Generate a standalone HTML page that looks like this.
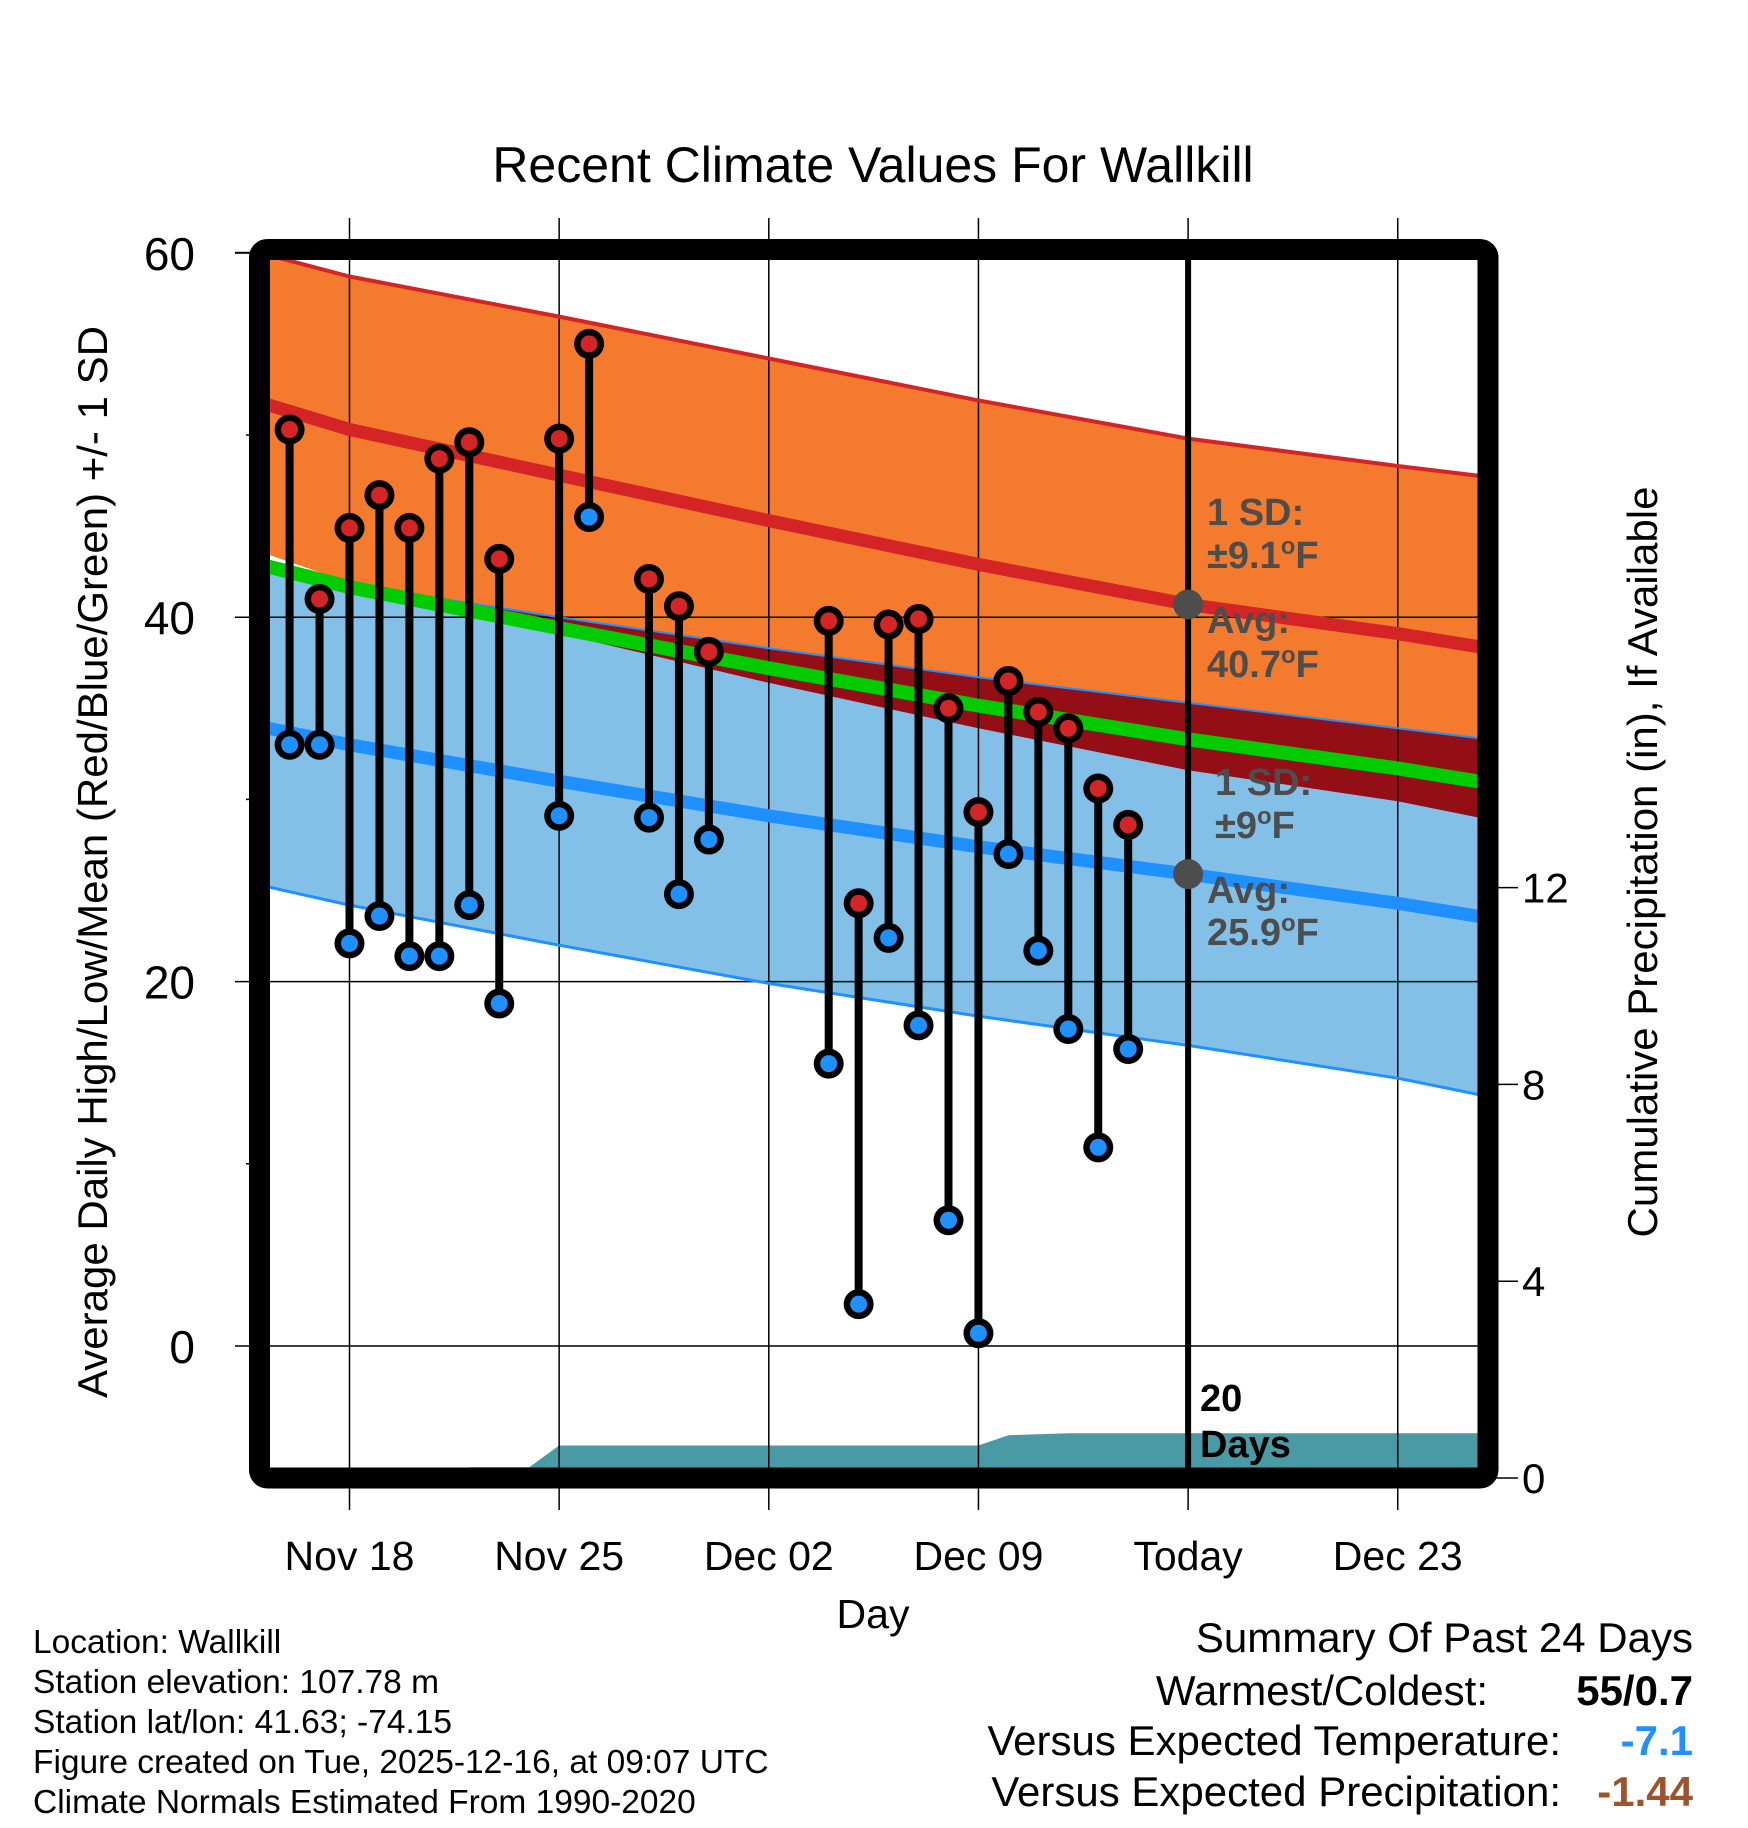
<!DOCTYPE html>
<html><head><meta charset="utf-8"><style>
html,body{margin:0;padding:0;background:#fff;}
svg{display:block;font-family:"Liberation Sans",sans-serif;}
</style></head><body>
<svg id="chart" width="1748" height="1828" viewBox="0 0 1748 1828">
<defs><clipPath id="plotclip"><rect x="260" y="250" width="1228" height="1228"/></clipPath></defs>
<g id="g-bands" clip-path="url(#plotclip)"></g>
<g id="g-grid"></g>
<g id="g-lines" clip-path="url(#plotclip)"></g>
<g id="g-data"></g>
<g id="g-frame"></g>
<g id="g-text"></g>
</svg>
<script>
// ---- data (days offset from Nov 18) ----
const normDays = [-3, 0, 7, 14, 21, 28, 35, 38];
const highMean = [51.8, 50.3, 47.8, 45.3, 42.9, 40.7, 39.1, 38.3];
const highSD   = [8.2, 8.4, 8.7, 8.9, 9.0, 9.1, 9.2, 9.4];
const lowMean  = [34.0, 33.0, 31.0, 29.1, 27.4, 25.9, 24.3, 23.5];
const lowSD    = [8.7, 8.8, 9.0, 9.2, 9.3, 9.4, 9.6, 9.8];
const obsDays  = [-2,-1,0,1,2,3,4,5,7,8,10,11,12,16,17,18,19,20,21,22,23,24,25,26];
const obsHigh  = [50.3,41.0,44.9,46.7,44.9,48.7,49.6,43.2,49.8,55.0,42.1,40.6,38.1,39.8,24.3,39.6,39.9,35.0,29.3,36.5,34.8,33.9,30.6,28.6];
const obsLow   = [33.0,33.0,22.1,23.6,21.4,21.4,24.2,18.8,29.1,45.5,29.0,24.8,27.8,15.5,2.3,22.4,17.6,6.9,0.7,27.0,21.7,17.4,10.9,16.3];
const precipDays = [-3,3.9,4.0,6.0,7.0,21.0,22.0,24.0,38.0];
const precipVals = [0,0,0.22,0.22,0.66,0.66,0.87,0.91,0.91];
const xTickDays = [0,7,14,21,28,35];
const xTickLabels = ["Nov 18","Nov 25","Dec 02","Dec 09","Today","Dec 23"];
const yTicks = [0,20,40,60];
const yMinor = [10,30,50];
const pTicks = [0,4,8,12];
const todayDay = 28;

const NS="http://www.w3.org/2000/svg";
const X = d => 349.5 + d*29.95;
const Y = t => 1346 - t*18.22;
const P = p => 1478 - p*49.2;
function el(tag, attrs, parent){const e=document.createElementNS(NS,tag);for(const k in attrs)e.setAttribute(k,attrs[k]);parent.appendChild(e);return e;}
const gb=document.getElementById('g-bands'), gg=document.getElementById('g-grid'), gl=document.getElementById('g-lines'),
      gd=document.getElementById('g-data'), gf=document.getElementById('g-frame'), gt=document.getElementById('g-text');

function pts(vals){return normDays.map((d,i)=>X(d)+','+Y(vals[i]).toFixed(1));}
function band(upper,lower){return pts(upper).concat(pts(lower).reverse()).join(' ');}
const hiU=highMean.map((m,i)=>m+highSD[i]), hiL=highMean.map((m,i)=>m-highSD[i]);
const loU=lowMean.map((m,i)=>m+lowSD[i]), loL=lowMean.map((m,i)=>m-lowSD[i]);
const midM=highMean.map((m,i)=>(m+lowMean[i])/2);

let e;
e=el('polygon',{points:band(hiU,hiL),fill:'#f47a2e'},gb);


e=el('polygon',{points:band(loU,loL),fill:'#83c0e8'},gb);


const cp=el('clipPath',{id:'hiclip'},document.querySelector('defs'));
el('polygon',{points:band(hiU,hiL)},cp);
e=el('polygon',{points:band(loU,loL),fill:'#930e15','clip-path':'url(#hiclip)'},gb);


// precip
const pp=precipDays.map((d,i)=>X(d)+','+P(precipVals[i]).toFixed(1));
pp.push(X(38)+','+P(0)); pp.push(X(-3)+','+P(0));
e=el('polygon',{points:pp.join(' '),fill:'#4a9aa5'},gb);



// grid
yTicks.forEach(t=>{
  e=el('line',{x1:235,x2:1488,y1:Y(t),y2:Y(t),stroke:'#000','stroke-width':1.5},gg);
  
  
});
yMinor.forEach(t=>{
  e=el('line',{x1:246,x2:260,y1:Y(t),y2:Y(t),stroke:'#000','stroke-width':1.5},gg);
  
  
});
xTickDays.forEach(d=>{
  e=el('line',{x1:X(d),x2:X(d),y1:218,y2:1510,stroke:'#000','stroke-width':1.5},gg);
  
  
});
pTicks.forEach(p=>{
  e=el('line',{x1:1488,x2:1518,y1:P(p),y2:P(p),stroke:'#000','stroke-width':1.5},gg);
  
  
});

function line(vals,color,w,name){
  e=el('polyline',{points:pts(vals).join(' '),fill:'none',stroke:color,'stroke-width':w,'stroke-linejoin':'round'},gl);
  
  
}
line(hiU,'#d42426',4,'high-upper-sd-line');
line(loL,'#1e90ff',3,'low-lower-sd-line');
line(loU,'#1e90ff',2,'low-upper-sd-line');
line(highMean,'#d42426',13,'avg-high-line');
line(lowMean,'#1e90ff',13,'avg-low-line');
line(midM,'#00cc00',14,'avg-mean-line');

// today line
e=el('line',{x1:X(todayDay),x2:X(todayDay),y1:250,y2:1478,stroke:'#000','stroke-width':6},gd);



// observations
obsDays.forEach((d,i)=>{
  e=el('line',{x1:X(d),x2:X(d),y1:Y(obsHigh[i]),y2:Y(obsLow[i]),stroke:'#000','stroke-width':8},gd);
  
  
});
obsDays.forEach((d,i)=>{
  [[obsHigh[i],'#d42426','high-marker'],[obsLow[i],'#1e90ff','low-marker']].forEach(([v,c,n])=>{
    e=el('circle',{cx:X(d),cy:Y(v),r:15,fill:'#000'},gd);
    
    
    e=el('circle',{cx:X(d),cy:Y(v),r:8.5,fill:c},gd);
    
    
  });
});
// today normal dots
[highMean[5],lowMean[5]].forEach(v=>{
  e=el('circle',{cx:X(todayDay),cy:Y(v),r:15,fill:'#4d4d4d'},gd);
  
  
});

// frame
e=el('rect',{x:259.5,y:249.5,width:1228.5,height:1228.5,rx:8,fill:'none',stroke:'#000','stroke-width':21},gf);


e=el('line',{x1:235,x2:250,y1:Y(60),y2:Y(60),stroke:'#000','stroke-width':2},gf);



function txt(s,x,y,attrs,name){
  e=el('text',Object.assign({x:x,y:y},attrs),gt);
  e.textContent=s;
  
  
  return e;
}
txt('Recent Climate Values For Wallkill',873,182,{'font-size':50,'text-anchor':'middle'},'chart-title');
yTicks.forEach(t=>txt(String(t),195,Y(t)+17,{'font-size':46,'text-anchor':'end'},'y-tick-label'));
pTicks.forEach(p=>txt(String(p),1522,P(p)+15,{'font-size':42},'precip-tick-label'));
xTickDays.forEach((d,i)=>txt(xTickLabels[i],X(d),1570,{'font-size':41,'text-anchor':'middle'},'x-tick-label'));
txt('Day',873,1628,{'font-size':41,'text-anchor':'middle'},'x-axis-title');
txt('Average Daily High/Low/Mean (Red/Blue/Green) +/- 1 SD',0,0,{'font-size':42,'text-anchor':'middle',transform:'translate(107,862) rotate(-90)'},'y-axis-title');
txt('Cumulative Precipitation (in), If Available',0,0,{'font-size':42,'text-anchor':'middle',transform:'translate(1657,862) rotate(-90)'},'precip-axis-title');

const lab={'font-size':38,'font-weight':'bold',fill:'#4d4d4d'};
txt('1 SD:',1207,525,lab,'high-sd-label');
e=txt('',1207,568,lab,'high-sd-value');
e.innerHTML='±9.1<tspan dy="-14" font-size="24">o</tspan><tspan dy="14">F</tspan>';
txt('Avg:',1207,633,lab,'high-avg-label');
e=txt('',1207,677,lab,'high-avg-value');
e.innerHTML='40.7<tspan dy="-14" font-size="24">o</tspan><tspan dy="14">F</tspan>';
txt('1 SD:',1215,795,lab,'low-sd-label');
e=txt('',1215,838,lab,'low-sd-value');
e.innerHTML='±9<tspan dy="-14" font-size="24">o</tspan><tspan dy="14">F</tspan>';
txt('Avg:',1207,903,lab,'low-avg-label');
e=txt('',1207,945,lab,'low-avg-value');
e.innerHTML='25.9<tspan dy="-14" font-size="24">o</tspan><tspan dy="14">F</tspan>';
txt('20',1200,1411,{'font-size':38,'font-weight':'bold'},'days-count-label');
txt('Days',1200,1457,{'font-size':38,'font-weight':'bold'},'days-count-unit');

const foot=['Location: Wallkill','Station elevation: 107.78 m','Station lat/lon: 41.63; -74.15','Figure created on Tue, 2025-12-16, at 09:07 UTC','Climate Normals Estimated From 1990-2020'];
foot.forEach((s,i)=>txt(s,33,1653+i*40,{'font-size':33.5},'footer-line'));

txt('Summary Of Past 24 Days',1693,1652,{'font-size':42,'text-anchor':'end'},'summary-title');
txt('Warmest/Coldest:',1488,1705,{'font-size':42,'text-anchor':'end'},'warmest-coldest-label');
txt('55/0.7',1693,1705,{'font-size':42,'text-anchor':'end','font-weight':'bold'},'warmest-coldest-value');
txt('Versus Expected Temperature:',1561,1755,{'font-size':42,'text-anchor':'end'},'temp-anomaly-label');
txt('-7.1',1693,1755,{'font-size':42,'text-anchor':'end','font-weight':'bold',fill:'#1e90ff'},'temp-anomaly-value');
txt('Versus Expected Precipitation:',1561,1806,{'font-size':42,'text-anchor':'end'},'precip-anomaly-label');
txt('-1.44',1693,1806,{'font-size':42,'text-anchor':'end','font-weight':'bold',fill:'#a0522d'},'precip-anomaly-value');
</script>
</body></html>
